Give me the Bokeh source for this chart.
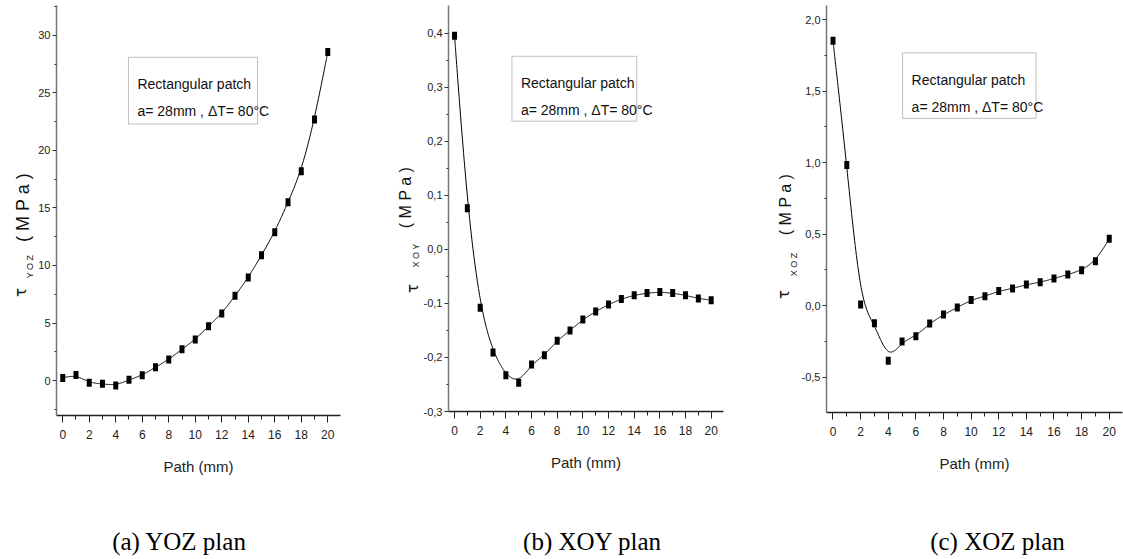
import numpy as np
from bokeh.plotting import figure
from bokeh.layouts import row, column
from bokeh.models import FixedTicker, CustomJSTickFormatter, Label, BoxAnnotation, Range1d
from bokeh.core.properties import value
from bokeh.embed import file_html
from bokeh.resources import INLINE

# ---------------- data ----------------
path_mm = list(range(21))
tau_yoz = [0.23, 0.49, -0.20, -0.29, -0.43, 0.06, 0.46, 1.16, 1.83, 2.72, 3.57,
           4.72, 5.83, 7.36, 8.95, 10.9, 12.9, 15.5, 18.2, 22.7, 28.55]
tau_xoy = [0.395, 0.076, -0.108, -0.191, -0.233, -0.247, -0.213, -0.196, -0.169, -0.150, -0.130,
           -0.115, -0.102, -0.092, -0.085, -0.081, -0.079, -0.081, -0.085, -0.091, -0.094]
tau_xoz = [1.853, 0.984, 0.007, -0.123, -0.386, -0.251, -0.214, -0.126, -0.063, -0.014, 0.040,
           0.065, 0.102, 0.119, 0.147, 0.163, 0.190, 0.217, 0.248, 0.310, 0.467]

x_ticks = [0, 2, 4, 6, 8, 10, 12, 14, 16, 18, 20]
x_minor = [1, 3, 5, 7, 9, 11, 13, 15, 17, 19]
yoz_ticks = [0, 5, 10, 15, 20, 25, 30]
yoz_minor = [-2.5, 2.5, 7.5, 12.5, 17.5, 22.5, 27.5, 32.5]
xoy_ticks = [-0.3, -0.2, -0.1, 0.0, 0.1, 0.2, 0.3, 0.4]
xoy_minor = [-0.25, -0.15, -0.05, 0.05, 0.15, 0.25, 0.35]
xoz_ticks = [-0.5, 0.0, 0.5, 1.0, 1.5, 2.0]
xoz_minor = [-0.25, 0.25, 0.75, 1.25, 1.75]

legend_l1 = "Rectangular patch"
legend_l2 = "a= 28mm , \u0394T= 80\u00b0C"
x_title = "Path (mm)"
captions = ["(a) YOZ plan", "(b) XOY plan", "(c) XOZ plan"]
subs = ["Y O Z", "X O Y", "X O Z"]
unit_txt = "( M P a )"

SANS = "Liberation Sans"
SERIF = "Liberation Serif"
W = 1123
H = 559
RH = 500          # height of the plot row
CH = H - RH       # height of the caption strip


def bspline(xs, ys, n=24):
    px = np.r_[xs[0], xs[0], xs, xs[-1], xs[-1]].astype(float)
    py = np.r_[ys[0], ys[0], ys, ys[-1], ys[-1]].astype(float)
    t = np.linspace(0, 1, n)
    b0 = (1 - t) ** 3 / 6
    b1 = (3 * t ** 3 - 6 * t ** 2 + 4) / 6
    b2 = (-3 * t ** 3 + 3 * t ** 2 + 3 * t + 1) / 6
    b3 = t ** 3 / 6
    ox, oy = [], []
    for i in range(len(px) - 3):
        ox.extend(b0 * px[i] + b1 * px[i + 1] + b2 * px[i + 2] + b3 * px[i + 3])
        oy.extend(b0 * py[i] + b1 * py[i + 1] + b2 * py[i + 2] + b3 * py[i + 3])
    return ox, oy


def blank(width, height):
    f = figure(width=width, height=height, output_backend="svg", toolbar_location=None,
               title=None,
               x_range=Range1d(0, width), y_range=Range1d(0, height),
               x_axis_type=None, y_axis_type=None,
               min_border_left=0, min_border_right=0, min_border_top=0, min_border_bottom=0,
               background_fill_color="white", border_fill_color="white")
    f.outline_line_color = None
    f.grid.visible = False
    return f


def ylabel_fig(width, sub, tau_pos, sub_pos, unit_pos, unit_size):
    f = blank(width, RH)
    for (cx, cy), txt, font, size in ((tau_pos, "\u03c4", "DejaVu Sans", "15px"),
                                      (sub_pos, sub, SANS, "9px"),
                                      (unit_pos, unit_txt, SANS, unit_size)):
        f.text(x=[cx], y=[RH - cy], text=[txt], angle=np.pi / 2,
               text_align="center", text_baseline="middle",
               text_font=value(font), text_font_size=size, text_color="#111111")
    return f


def panel(width, bl, br, bt, bb, yr, ys, yt, ymin, decimals, box):
    p = figure(width=width, height=RH, output_backend="svg", toolbar_location=None,
               title=None,
               x_range=Range1d(-0.47, 20.96), y_range=Range1d(*yr),
               min_border_left=bl, min_border_right=br, min_border_top=bt, min_border_bottom=bb,
               background_fill_color="white", border_fill_color="white")
    p.outline_line_color = None
    p.grid.visible = False

    cx, cy = bspline(path_mm, ys)
    p.line(cx, cy, line_color="black", line_width=1)
    p.rect(path_mm, ys, width=5, height=8, width_units="screen", height_units="screen",
           fill_color="black", line_color=None)

    xa = p.xaxis[0]
    xa.ticker = FixedTicker(ticks=x_ticks, minor_ticks=x_minor)
    xa.axis_line_color = "#222222"
    xa.axis_line_width = 1.5
    xa.major_tick_line_color = "#222222"
    xa.minor_tick_line_color = "#222222"
    xa.major_tick_in = 0
    xa.major_tick_out = 7
    xa.minor_tick_in = 0
    xa.minor_tick_out = 4
    xa.major_label_text_font = SANS
    xa.major_label_text_font_size = "12px"
    xa.major_label_text_color = "#222222"
    xa.major_label_standoff = 7
    xa.axis_label = x_title
    xa.axis_label_text_font = SANS
    xa.axis_label_text_font_size = "15px"
    xa.axis_label_text_font_style = "normal"
    xa.axis_label_text_color = "#222222"
    xa.axis_label_standoff = 16

    ya = p.yaxis[0]
    ya.ticker = FixedTicker(ticks=yt, minor_ticks=ymin)
    if decimals:
        ya.formatter = CustomJSTickFormatter(code="return tick.toFixed(1).replace('.', ',');")
    ya.axis_line_color = "#777777"
    ya.axis_line_width = 1.5
    ya.major_tick_line_color = "#333333"
    ya.minor_tick_line_color = "#333333"
    ya.major_tick_in = 0
    ya.major_tick_out = 4
    ya.minor_tick_in = 0
    ya.minor_tick_out = 2
    ya.major_label_text_font = SANS
    ya.major_label_text_font_size = "11px"
    ya.major_label_text_color = "#222222"
    ya.major_label_standoff = 2

    bx0, bx1, by0, by1 = box
    p.add_layout(BoxAnnotation(left=bx0, right=bx1, bottom=by0, top=by1,
                               fill_color="white", fill_alpha=1.0,
                               line_color="#333333", line_width=1))
    p.add_layout(Label(x=bx0, y=by1, x_offset=9, y_offset=-27, text=legend_l1,
                       text_font=SANS, text_font_size="14px", text_color="#111111",
                       text_baseline="alphabetic"))
    p.add_layout(Label(x=bx0, y=by1, x_offset=9, y_offset=-54, text=legend_l2,
                       text_font=SANS, text_font_size="14px", text_color="#111111",
                       text_baseline="alphabetic"))
    return p


# panel (a): canvas x 0..370
la = ylabel_fig(34, subs[0], (20, 292), (29, 266), (22, 207), "18px")
pa = panel(336, 22, 30, 5, RH - 415, (-3.04, 32.6), tau_yoz, yoz_ticks, yoz_minor, False,
           (4.96, 14.7, 22.3, 28.1))
# panel (b): canvas x 370..745
lb = ylabel_fig(50, subs[1], (412 - 370, 288), (415 - 370, 255), (405 - 370, 197), "16px")
pb = panel(325, 27, 22, 5, RH - 411, (-0.3, 0.451), tau_xoy, xoy_ticks, xoy_minor, True,
           (4.47, 14.2, 0.237, 0.357))
# panel (c): canvas x 745..1123
lc = ylabel_fig(53, subs[2], (783 - 745, 294), (793 - 745, 264), (785 - 745, 204), "16px")
pc = panel(325, 26, 1, 5, RH - 412, (-0.748, 2.1), tau_xoz, xoz_ticks, xoz_minor, True,
           (5.04, 14.7, 1.31, 1.769))

cap = blank(W, CH)
cap.text(x=[179, 592, 997], y=[CH - 41] * 3, text=captions,
         text_align="center", text_baseline="middle",
         text_font=value(SERIF), text_font_size="25px", text_color="black")

top = row(column(la), column(pa), column(lb), column(pb), column(lc), column(pc), spacing=0)
layout = column(top, cap, spacing=0)
open("out.html", "w").write(file_html(layout, INLINE))
